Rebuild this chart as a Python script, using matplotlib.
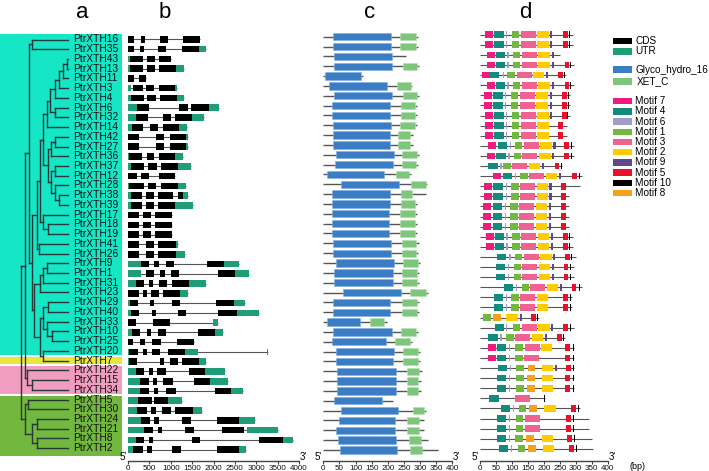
import matplotlib
matplotlib.use("Agg")
import matplotlib.pyplot as plt
from matplotlib.patches import Rectangle

plt.rcParams['font.family'] = ['Liberation Sans', 'DejaVu Sans']

# ---- data -------------------------------------------------------------
genes = ["PtrXTH16", "PtrXTH35", "PtrXTH43", "PtrXTH13", "PtrXTH11", "PtrXTH3",
         "PtrXTH4", "PtrXTH6", "PtrXTH32", "PtrXTH14", "PtrXTH42", "PtrXTH27",
         "PtrXTH36", "PtrXTH37", "PtrXTH12", "PtrXTH28", "PtrXTH38", "PtrXTH39",
         "PtrXTH17", "PtrXTH18", "PtrXTH19", "PtrXTH41", "PtrXTH26", "PtrXTH9",
         "PtrXTH1", "PtrXTH31", "PtrXTH23", "PtrXTH29", "PtrXTH40", "PtrXTH33",
         "PtrXTH10", "PtrXTH25", "PtrXTH20", "PtrXTH7", "PtrXTH22", "PtrXTH15",
         "PtrXTH34", "PtrXTH5", "PtrXTH30", "PtrXTH24", "PtrXTH21", "PtrXTH8",
         "PtrXTH2"]

# clade colouring of the tree background: (first row, last row, colour)
groups = [(0, 32, "#14e6c6"), (33, 33, "#e9e83a"), (34, 36, "#f19dc0"), (37, 42, "#72b83f")]

# tree: (node height from root, left, right)
tree = (0.0,
        (4.3,
         (8.6,
          (11.6, "PtrXTH16", "PtrXTH35"),
          (10.8,
           (16.0,
            (19.3,
             (22.6,
              (26.0,
               (29.3,
                (34.3,
                 (38.6,
                  (42.0, (46.0, "PtrXTH43", "PtrXTH13"), "PtrXTH11"),
                  "PtrXTH3"),
                 "PtrXTH4"),
                (34.3, "PtrXTH6", "PtrXTH32")),
               "PtrXTH14"),
              (27.3,
               (30.3, (34.3, "PtrXTH42", "PtrXTH27"), "PtrXTH36"),
               (30.3, (34.3, "PtrXTH37", "PtrXTH12"),
                (34.3, "PtrXTH28", (38.6, "PtrXTH38", "PtrXTH39"))))),
             (22.6, "PtrXTH17", (27.6, "PtrXTH18", "PtrXTH19"))),
            (18.6, "PtrXTH41", "PtrXTH26")),
           (13.3,
            (19.3, (22.6, (26.0, "PtrXTH9", "PtrXTH1"), "PtrXTH31"), "PtrXTH23"),
            (19.3,
             (22.6, (27.6, "PtrXTH29", "PtrXTH40"),
              (26.0, "PtrXTH33", (31.0, "PtrXTH10", "PtrXTH25"))),
             (22.6, "PtrXTH20", "PtrXTH7"))))),
         (6.0, "PtrXTH22", (11.6, "PtrXTH15", "PtrXTH34"))),
        (4.3, (7.6, "PtrXTH5", "PtrXTH30"),
         (11.0, (16.0, "PtrXTH24", "PtrXTH21"), (16.0, "PtrXTH8", "PtrXTH2"))))
tip_height = 47.3

# gene structure (bp)
cds = [
    [(0, 150), (310, 405), (750, 930), (1285, 1690)],
    [(0, 140), (280, 375), (695, 890), (1255, 1670)],
    [(50, 345), (445, 640), (735, 1010)],
    [(55, 345), (455, 625), (725, 1130)],
    [(0, 150), (250, 430)],
    [(125, 345), (430, 615), (720, 1110)],
    [(70, 365), (450, 645), (740, 1150)],
    [(210, 485), (1195, 1400), (1480, 1890)],
    [(185, 460), (830, 1005), (1110, 1505)],
    [(85, 360), (515, 705), (810, 1200)],
    [(0, 265), (655, 850), (990, 1355)],
    [(0, 265), (655, 850), (990, 1355)],
    [(30, 330), (440, 615), (715, 1090)],
    [(80, 375), (475, 670), (770, 1160)],
    [(0, 210), (305, 500), (720, 1110)],
    [(25, 365), (470, 655), (770, 1170)],
    [(70, 330), (420, 615), (710, 1060), (1160, 1290)],
    [(70, 330), (420, 615), (710, 1110)],
    [(0, 250), (345, 540), (640, 1040)],
    [(0, 250), (345, 540), (640, 1040)],
    [(0, 250), (345, 540), (640, 1040)],
    [(0, 265), (420, 615), (710, 1125)],
    [(0, 265), (420, 615), (710, 1125)],
    [(295, 490), (615, 720), (890, 1085), (1850, 2255)],
    [(430, 615), (755, 865), (1015, 1200), (2105, 2510)],
    [(195, 380), (500, 595), (735, 920), (1020, 1420)],
    [(0, 260), (345, 440), (545, 735), (820, 1220)],
    [(55, 225), (505, 615), (1030, 1225), (2060, 2480)],
    [(80, 250), (555, 665), (1165, 1350), (2115, 2545)],
    [(0, 195), (585, 985)],
    [(100, 280), (435, 545), (695, 890), (1645, 2045)],
    [(0, 110), (290, 390), (570, 770), (1155, 1550)],
    [(30, 240), (360, 455), (565, 760), (945, 1325)],
    [(15, 220), (740, 840), (975, 1170), (1270, 1670)],
    [(180, 385), (500, 595), (690, 900), (1435, 1800)],
    [(290, 485), (580, 690), (830, 1045), (1545, 1910)],
    [(290, 485), (610, 710), (895, 1115), (2045, 2410)],
    [(225, 555), (600, 945)],
    [(210, 435), (530, 650), (805, 1015), (1110, 1515)],
    [(305, 525), (615, 735), (1265, 1475), (2090, 2605)],
    [(375, 575), (700, 795), (1335, 1545), (2200, 2710)],
    [(185, 380), (500, 595), (1500, 1695), (3065, 3635)],
    [(115, 340), (445, 555), (1040, 1250), (2085, 2605)],
]
utr = [
    [], [(1670, 1820)], [(0, 50)], [(0, 55), (1130, 1320)], [],
    [(0, 60), (1110, 1140)], [(0, 70), (1150, 1310)], [(0, 210), (1890, 2120)],
    [(0, 185), (1505, 1780)], [(0, 85), (1200, 1380)], [(1355, 1395)],
    [(1355, 1395)], [(0, 30), (1090, 1295)], [(0, 80), (1160, 1480)], [],
    [(0, 25), (1170, 1350)], [(0, 70), (1290, 1400)], [(0, 70), (1110, 1530)],
    [], [], [], [(1125, 1170)], [(1125, 1325)], [(0, 295), (2255, 2605)],
    [(0, 295), (2510, 2840)], [(0, 195), (1420, 1825)], [(1220, 1400)],
    [(0, 55), (2480, 2730)], [(0, 80), (2545, 3060)], [(1980, 2105)],
    [(0, 100), (2045, 2225)], [], [(0, 30), (1325, 1645), (3250, 3270)],
    [(0, 15), (1670, 1820)], [(0, 180), (1800, 2275)], [(0, 290), (1910, 2350)],
    [(0, 290), (2410, 2700)], [(0, 225), (945, 1265)], [(0, 210), (1515, 1730)],
    [(0, 305), (2605, 2970)], [(0, 375), (2790, 3510)], [(0, 185), (3635, 3860)],
    [(0, 115), (2605, 2760)],
]

# conserved domains (aa)
prot_len = [295, 295, 256, 297, 122, 274, 297, 290, 292, 292, 277, 277, 296, 294,
            271, 320, 317, 290, 290, 290, 290, 297, 295, 300, 297, 297, 324, 297,
            297, 196, 295, 276, 300, 300, 305, 302, 302, 217, 317, 311, 311, 324, 355]
gh16 = [(31, 210), (31, 210), (34, 213), (34, 213), (4, 117), (18, 196), (34, 213),
        (27, 208), (27, 208), (29, 210), (29, 208), (29, 208), (40, 220), (36, 215),
        (10, 189), (55, 236), (27, 207), (27, 207), (26, 205), (26, 205), (26, 205),
        (31, 210), (31, 210), (40, 220), (34, 215), (34, 215), (62, 240), (31, 207),
        (31, 207), (10, 114), (31, 212), (27, 194), (40, 220), (40, 217), (43, 225),
        (41, 224), (41, 224), (32, 183), (54, 233), (49, 222), (39, 222), (47, 224),
        (52, 230)]
xet_c = [(238, 288), (238, 288), None, (246, 291), None, (230, 272), (246, 291),
         (242, 284), (242, 284), (238, 285), (231, 270), (231, 270), (245, 291),
         (243, 287), (224, 266), (272, 317), (240, 274), (241, 284), (238, 283),
         (238, 283), (238, 283), (245, 288), (243, 288), (248, 293), (243, 290),
         (243, 290), (269, 317), (245, 290), (245, 290), (145, 189), (241, 287),
         (222, 269), (248, 293), (246, 293), (259, 298), (259, 295), (259, 295),
         None, (277, 313), (260, 296), (260, 296), (266, 302), (269, 307)]

# MEME motifs (aa); panel d has no row for PtrXTH11
motif_ids = [7, 4, 6, 1, 3, 2, 9, 5, 10, 8]
motif_colors = ["#ee1c7f", "#138a7e", "#a29cc6", "#71b740", "#ef6292",
                "#ffcc00", "#5d4a8c", "#e8112d", "#000000", "#f7a11a"]
motif_width = [25, 29, 4, 24, 47, 36, 7, 15, 3, 24]
full_a = [(7, 17), (4, 45), (6, 82), (1, 99), (3, 127), (2, 179), (9, 220), (5, 260), (10, 280)]
full_b = [(7, 21), (4, 49), (6, 86), (1, 102), (3, 130), (2, 182), (9, 224), (5, 265), (10, 283)]
full_c = [(7, 14), (4, 42), (6, 79), (1, 96), (3, 125), (2, 176), (9, 218), (5, 256), (10, 275)]
full_d = [(7, 10), (4, 40), (6, 78), (1, 95), (3, 123), (2, 175), (9, 215), (5, 253), (10, 271)]
full_e = [(7, 18), (4, 46), (6, 83), (1, 100), (3, 129), (2, 181), (9, 221), (5, 260), (10, 279)]
row_f = [(4, 50), (6, 87), (1, 105), (3, 133), (2, 184), (9, 225), (5, 262), (10, 281)]
row_g = [(4, 43), (6, 80), (1, 97), (3, 126), (2, 178), (5, 261), (10, 283)]
row_h = [(4, 53), (6, 91), (1, 113), (8, 147), (2, 193), (5, 267), (10, 290)]
row_i = [(4, 52), (6, 91), (1, 112), (3, 141), (5, 269), (10, 291)]
motifs = [
    full_a, full_a,
    [(7, 21), (4, 49), (6, 86), (1, 102), (3, 130), (2, 182), (9, 224)],
    full_b,
    [(7, 5), (4, 32), (6, 71), (1, 85), (3, 115), (2, 166), (9, 207), (5, 244), (10, 264)],
    full_b, full_c, full_c,
    [(7, 16), (4, 45), (6, 82), (1, 99), (3, 127), (2, 179), (9, 220), (5, 256), (10, 273)],
    [(7, 16), (4, 45), (6, 82), (1, 99), (3, 127), (2, 179), (5, 244)],
    [(7, 16), (4, 45), (6, 82), (1, 99), (3, 127), (2, 179), (5, 244)],
    [(7, 26), (4, 55), (6, 93), (1, 109), (3, 138), (2, 189), (9, 230), (5, 264), (10, 284)],
    [(7, 22), (4, 51), (6, 89), (1, 105), (3, 133), (2, 185), (9, 226), (5, 264), (10, 284)],
    [(4, 26), (6, 64), (1, 72), (3, 100), (2, 152), (9, 195), (5, 234), (10, 254)],
    [(7, 42), (4, 71), (6, 109), (1, 126), (3, 154), (2, 206), (9, 247), (5, 289), (10, 310)],
    [(7, 14), (4, 42), (6, 80), (1, 97), (3, 126), (2, 177), (9, 217), (5, 255)],
    [(7, 14), (4, 42), (6, 80), (1, 97), (3, 126), (2, 177), (9, 217), (5, 255), (10, 271)],
    full_d, full_d, full_d, full_e, full_e,
    [(4, 54), (6, 92), (1, 109), (3, 138), (2, 189), (9, 229), (5, 267), (10, 286)],
    row_f, row_f,
    [(4, 75), (6, 113), (1, 130), (3, 158), (2, 209), (9, 250), (5, 287), (10, 310)],
    row_g, row_g,
    [(1, 10), (8, 41), (2, 83), (9, 124), (5, 161), (10, 180)],
    [(4, 46), (6, 82), (1, 102), (3, 130), (2, 182), (9, 223), (5, 260), (10, 281)],
    [(4, 26), (6, 64), (1, 82), (3, 111), (2, 162), (9, 203), (5, 241), (10, 260)],
    [(7, 25), (4, 54), (6, 90), (1, 110), (3, 140), (2, 190), (5, 267), (10, 290)],
    [(7, 25), (4, 54), (6, 90), (1, 110), (3, 138), (5, 267), (10, 290)],
    [(4, 55), (6, 93), (1, 113), (8, 149), (2, 193), (9, 234), (5, 269), (10, 290)],
    row_h, row_h,
    [(4, 29), (3, 110), (10, 202)],
    [(4, 66), (6, 102), (1, 121), (8, 154), (2, 201), (5, 285), (10, 308)],
    row_i, row_i,
    [(4, 53), (6, 91), (1, 110), (8, 144), (2, 193), (5, 274), (10, 296)],
    [(4, 60), (6, 97), (1, 118), (8, 150), (2, 196), (5, 278), (10, 300)],
]
motif_len = [290, 290, 252, 295, 268, 295, 281, 281, 281, 274, 274, 295, 295, 256,
             318, 313, 280, 279, 279, 279, 290, 290, 300, 295, 295, 321, 287, 287,
             185, 293, 265, 295, 295, 296, 295, 295, 205, 312, 340, 340, 352, 354]

CDS_COLOR = "black"
UTR_COLOR = "#1f9c78"
GH16_COLOR = "#3b7dc4"
XET_COLOR = "#7dc67c"
LINE = "#555555"

# ---- layout helpers --------------------------------------------------
W, H = 709, 471
AX_BOTTOM = 461  # pixel row of the scale bars

fig = plt.figure(figsize=(W / 100, H / 100), dpi=100)


def place(x0, x1):
  return fig.add_axes([x0 / W, (H - AX_BOTTOM) / H, (x1 - x0) / W, AX_BOTTOM / H])


def row_lim(first, step):
  return ((AX_BOTTOM - first) / step, -first / step)


def scale_axis(ax, ticks):
  for s in ['top', 'left', 'right']:
    ax.spines[s].set_visible(False)
  ax.spines['bottom'].set_color('#444444')
  ax.spines['bottom'].set_linewidth(1.0)
  ax.set_yticks([])
  ax.set_xticks(ticks)
  ax.tick_params(axis='x', length=2, width=0.8, pad=1, labelsize=5.8,
                 color='#444444', labelcolor='#111111')
  ax.patch.set_alpha(0)


# ---- panel a: tree ---------------------------------------------------
ax_a = place(0, 122)
ax_a.set_xlim(-20.7, 101.3)
ax_a.set_ylim(*row_lim(39.5, 9.73))
ax_a.axis('off')
for first, last, col in groups:
  lo = first - 0.55 if first == 0 else first - 0.4
  hi = last + 0.85 if last == len(genes) - 1 else last + 0.4
  ax_a.axhspan(lo, hi, color=col, lw=0, zorder=0)

row_of = {g: i for i, g in enumerate(genes)}


def draw_node(node):
  if isinstance(node, str):
    return tip_height, row_of[node]
  h, left, right = node
  lx, ly = draw_node(left)
  rx, ry = draw_node(right)
  ax_a.plot([h, h], [ly, ry], color='#263838', lw=1.0, zorder=2)
  ax_a.plot([h, lx], [ly, ly], color='#263838', lw=1.0, zorder=2)
  ax_a.plot([h, rx], [ry, ry], color='#263838', lw=1.0, zorder=2)
  return h, (ly + ry) / 2


draw_node(tree)
for i, g in enumerate(genes):
  ax_a.text(52.3, i, g, va='center', ha='left', fontsize=7.4, color='#111111')

# ---- panel b: gene structure -----------------------------------------
ax_b = place(128, 299)
ax_b.set_xlim(0, 4000)
ax_b.set_ylim(*row_lim(39.3, 9.77))
scale_axis(ax_b, range(0, 4001, 500))
for i in range(len(genes)):
  segs = cds[i] + utr[i]
  end = max(e for s, e in segs)
  ax_b.hlines(i, 0, end, color=LINE, lw=0.8, zorder=1)
  ax_b.broken_barh([(s, e - s) for s, e in cds[i]], (i - 0.34, 0.68),
                   facecolors=CDS_COLOR, zorder=2)
  if utr[i]:
    ax_b.broken_barh([(s, e - s) for s, e in utr[i]], (i - 0.34, 0.68),
                     facecolors=UTR_COLOR, zorder=2)

# ---- panel c: domains ------------------------------------------------
ax_c = place(323.3, 452.3)
ax_c.set_xlim(0, 400)
ax_c.set_ylim(*row_lim(36.7, 9.84))
scale_axis(ax_c, range(0, 401, 50))
for i in range(len(genes)):
  ax_c.hlines(i, 0, prot_len[i], color=LINE, lw=1.0, zorder=1)
  s, e = gh16[i]
  ax_c.broken_barh([(s, e - s)], (i - 0.37, 0.74), facecolors=GH16_COLOR,
                   edgecolors='#7fb0e0', linewidth=0.4, zorder=2)
  if xet_c[i]:
    s, e = xet_c[i]
    ax_c.broken_barh([(s, e - s)], (i - 0.37, 0.74), facecolors=XET_COLOR,
                     edgecolors='#b5e0b0', linewidth=0.4, zorder=2)

# ---- panel d: motifs -------------------------------------------------
ax_d = place(480, 607.7)
ax_d.set_xlim(0, 400)
ax_d.set_ylim(*row_lim(34.7, 10.1))
scale_axis(ax_d, range(0, 401, 50))
for j, row in enumerate(motifs):
  ax_d.hlines(j, 0, motif_len[j], color=LINE, lw=0.8, zorder=1)
  for m, s in row:
    k = motif_ids.index(m)
    ax_d.broken_barh([(s, motif_width[k])], (j - 0.33, 0.66),
                     facecolors=motif_colors[k], zorder=2)

# ---- annotations & legend (pixel overlay) ------------------------------
ov = fig.add_axes([0, 0, 1, 1])
ov.set_xlim(0, W)
ov.set_ylim(H, 0)
ov.axis('off')
ov.patch.set_alpha(0)

for letter, x in [("a", 82), ("b", 165), ("c", 370), ("d", 525)]:
  ov.text(x, 18.5, letter, fontsize=16, ha='center', va='baseline')
for x, lab in [(123, "5'"), (303, "3'"), (318, "5'"), (456, "3'"), (475, "5'"), (612, "3'")]:
  ov.text(x, 457.5, lab, fontsize=7, ha='center', va='center')
ov.text(638, 466.5, "(bp)", fontsize=6.5, ha='center', va='center')

legend_items = [("CDS", CDS_COLOR, 41.0, 635), ("UTR", UTR_COLOR, 51.3, 635),
                ("Glyco_hydro_16", GH16_COLOR, 69.7, 635), ("XET_C", XET_COLOR, 81.5, 637)]
for k, m in enumerate(motif_ids):
  legend_items.append(("Motif %d" % m, motif_colors[k], 101.2 + 10.2 * k, 635))
for lab, col, y, tx in legend_items:
  ov.add_patch(Rectangle((612.7, y - 3.3), 19.6, 6.6, facecolor=col, edgecolor='none'))
  ov.text(tx, y, lab, fontsize=7.2, va='center', ha='left')

fig.savefig("out.png", dpi=100)
